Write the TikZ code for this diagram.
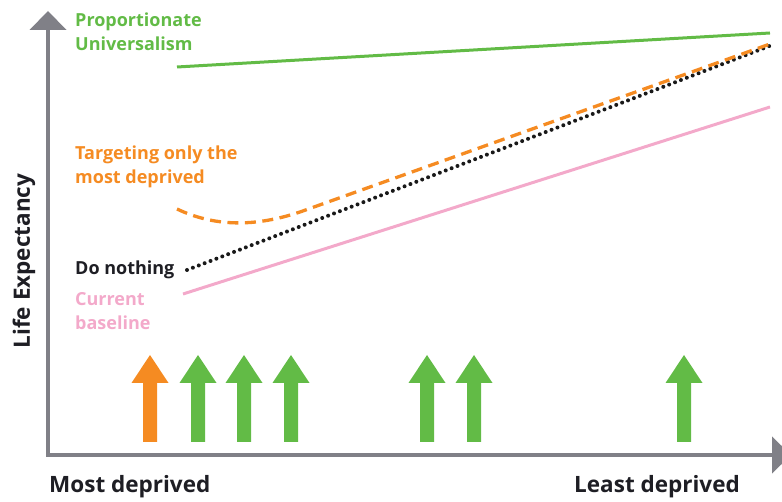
\documentclass[tikz,border=0pt]{standalone}
\usepackage{fontspec}
\setmainfont{Open Sans}
\definecolor{pgreen}{HTML}{62BB46}
\definecolor{porange}{HTML}{F58B22}
\definecolor{ppink}{HTML}{F3A9CA}
\definecolor{axisgray}{HTML}{808087}
\definecolor{dtext}{HTML}{1E1E24}
\tikzset{
  lbl/.style={font=\bfseries\fontsize{18}{24}\selectfont, align=left, anchor=north west, inner sep=0pt},
  axislbl/.style={font=\bfseries\fontsize{22.5}{26}\selectfont, text=dtext, inner sep=0pt},
  upar/.pic={\fill[pic actions] (-7,0) -- (-7,-59) -- (-18.5,-59) -- (0,-87) -- (18.5,-59) -- (7,-59) -- (7,0) -- cycle;},
}
\begin{document}
\begin{tikzpicture}[x=1pt,y=-1pt]
\useasboundingbox (0,0) rectangle (782,502);
% axes
\coordinate (O) at (48,455);
\coordinate (ytop) at (48,30);
\coordinate (xend) at (772,455);
\draw[axisgray, line width=4.5pt] (O) -- (ytop);
\draw[axisgray, line width=4.5pt] (46,455) -- (xend);
\fill[axisgray] (29.5,30) -- (48,11) -- (66.5,30) -- cycle;
\fill[axisgray] (772,436.5) -- (791,455) -- (772,473.5) -- cycle;
% axis labels
\node[axislbl, anchor=west] (most) at (49,487) {Most deprived};
\node[axislbl, anchor=east] (least) at (740,487) {Least deprived};
\node[axislbl, rotate=90] (le) at (24,261) {Life Expectancy};
% lines
\coordinate (g1) at (177,67); \coordinate (g2) at (770,33);
\draw[pgreen, line width=3pt] (g1) -- (g2);
\coordinate (p1) at (183,294); \coordinate (p2) at (770,107);
\draw[ppink, line width=3pt] (p1) -- (p2);
\coordinate (d1) at (187,270); \coordinate (d2) at (772,45);
\draw[black!90, line width=4pt, line cap=round, dash pattern=on 0pt off 6.3pt] (d1) -- (d2);
\coordinate (o1) at (177,209); \coordinate (om) at (300,212); \coordinate (o2) at (770,44);
\draw[porange, line width=3.3pt, dash pattern=on 11pt off 6.5pt] (o1) .. controls (215,227) and (255,227) .. (om) -- (o2);
% labels
\node[lbl, text=pgreen] (lpu) at (75,13) {Proportionate\\Universalism};
\node[lbl, text=porange] (lt) at (75,146) {Targeting only the\\most deprived};
\node[lbl, text=dtext] (ld) at (75,261) {Do nothing};
\node[lbl, text=ppink] (lc) at (75,292) {Current\\baseline};
% arrows
\pic[fill=porange] at (150,442) {upar};
\foreach \x in {198,244,291,427,474,684}{\pic[fill=pgreen] at (\x,442) {upar};}
\end{tikzpicture}
\end{document}
